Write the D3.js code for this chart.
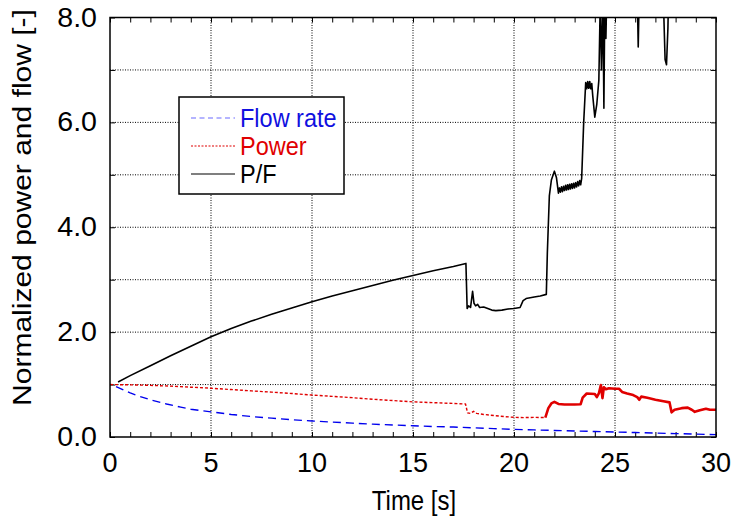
<!DOCTYPE html>
<html>
<head>
<meta charset="utf-8">
<script src="https://cdn.jsdelivr.net/npm/d3@7/dist/d3.min.js"></script>
<style>
  html, body { margin: 0; padding: 0; background: #fff; }
  svg { display: block; font-family: "Liberation Sans", Arial, Helvetica, sans-serif; }
</style>
</head>
<body>
<svg id="chart" width="736" height="519"></svg>
<script>
// Normalized flow rate [-] versus time [s]
const flowData = [
  [0.3, 0.96], [0.7, 0.89], [1.0, 0.84], [1.5, 0.77], [2.0, 0.71], [2.8, 0.63],
  [3.5, 0.57], [4.0, 0.53], [5.0, 0.48], [6.0, 0.43], [7.0, 0.39], [8.0, 0.36],
  [9.0, 0.33], [10.0, 0.305], [11.0, 0.285], [12.0, 0.265], [13.0, 0.245],
  [14.0, 0.23], [15.0, 0.215], [16.0, 0.2], [17.0, 0.19], [18.0, 0.175],
  [19.0, 0.16], [20.0, 0.145], [21.0, 0.135], [22.0, 0.125], [23.0, 0.115],
  [24.0, 0.105], [25.0, 0.095], [26.0, 0.085], [27.0, 0.075], [28.0, 0.065],
  [29.0, 0.055], [30.0, 0.045]
];

// Normalized power [-] versus time [s]
const powerData = [
  [0.0, 1.0], [1.0, 0.995], [2.0, 0.985], [3.0, 0.97], [4.0, 0.95], [5.0, 0.93],
  [6.0, 0.905], [7.0, 0.88], [8.0, 0.855], [9.0, 0.83], [10.0, 0.8], [11.0, 0.775],
  [12.0, 0.75], [13.0, 0.72], [14.0, 0.695], [15.0, 0.67], [16.0, 0.655],
  [17.0, 0.64], [17.6, 0.63], [17.7, 0.46], [17.85, 0.45], [18.0, 0.49],
  [18.15, 0.45], [18.5, 0.43], [19.0, 0.41], [19.5, 0.39], [20.0, 0.375],
  [20.5, 0.37], [21.0, 0.375], [21.55, 0.37], [21.7, 0.55], [21.85, 0.64],
  [22.0, 0.67], [22.2, 0.63], [22.5, 0.62], [23.0, 0.62], [23.3, 0.625],
  [23.4, 0.75], [23.6, 0.83], [24.0, 0.82], [24.1, 0.76], [24.2, 0.83],
  [24.3, 0.99], [24.38, 0.74], [24.45, 0.95], [24.55, 0.91], [24.7, 0.93],
  [25.0, 0.92], [25.2, 0.92], [25.35, 0.86], [25.6, 0.83], [25.9, 0.8],
  [26.1, 0.76], [26.2, 0.71], [26.3, 0.77], [26.6, 0.75], [27.0, 0.71],
  [27.4, 0.68], [27.7, 0.66], [27.8, 0.47], [27.95, 0.52], [28.3, 0.55],
  [28.6, 0.56], [28.8, 0.52], [28.95, 0.48], [29.2, 0.51], [29.5, 0.54],
  [29.7, 0.52], [30.0, 0.52]
];

// Power-to-flow ratio P/F [-] versus time [s]
const ratioData = [
  [0.4, 1.05], [1.0, 1.17], [2.0, 1.36], [3.0, 1.55], [4.0, 1.73], [5.0, 1.91],
  [6.0, 2.07], [7.0, 2.21], [8.0, 2.34], [9.0, 2.46], [10.0, 2.58], [11.0, 2.69],
  [12.0, 2.79], [13.0, 2.89], [14.0, 2.99], [15.0, 3.08], [16.0, 3.17],
  [17.0, 3.25], [17.62, 3.31], [17.68, 2.45], [17.75, 2.5], [17.85, 2.47],
  [17.95, 2.78], [18.02, 2.55], [18.1, 2.5], [18.2, 2.53], [18.3, 2.47],
  [18.5, 2.48], [18.7, 2.45], [18.9, 2.42], [19.1, 2.41], [19.4, 2.42],
  [19.7, 2.44], [20.0, 2.45], [20.3, 2.47], [20.45, 2.6], [20.6, 2.64],
  [21.0, 2.67], [21.3, 2.69], [21.6, 2.72], [21.65, 3.5], [21.75, 4.6],
  [21.85, 4.9], [22.0, 5.07], [22.1, 4.95], [22.2, 4.65], [22.25, 4.75],
  [22.3, 4.67], [22.35, 4.77], [22.4, 4.68], [22.45, 4.78], [22.5, 4.7],
  [22.55, 4.8], [22.6, 4.71], [22.65, 4.81], [22.7, 4.72], [22.75, 4.82],
  [22.8, 4.73], [22.85, 4.83], [22.9, 4.74], [22.95, 4.84], [23.0, 4.75],
  [23.05, 4.85], [23.1, 4.77], [23.15, 4.87], [23.2, 4.79], [23.25, 4.89],
  [23.3, 4.81], [23.35, 4.93], [23.45, 6.0], [23.55, 6.76], [23.6, 6.64],
  [23.65, 6.78], [23.7, 6.65], [23.75, 6.78], [23.8, 6.64], [23.85, 6.74],
  [23.9, 6.5], [24.0, 6.1], [24.1, 6.35], [24.2, 6.8], [24.27, 8.3],
  [24.33, 7.0], [24.4, 8.4], [24.45, 6.27], [24.5, 8.5], [24.55, 7.6],
  [24.62, 9.0], [25.0, 9.5], [26.0, 9.5], [26.1, 8.5], [26.15, 7.44],
  [26.2, 8.5], [26.3, 9.5], [27.3, 9.5], [27.42, 8.0], [27.48, 7.2],
  [27.55, 7.1], [27.62, 7.8], [27.7, 9.5], [30.0, 9.5]
];

const xTickValues = [0, 5, 10, 15, 20, 25, 30];
const yTickValues = [0, 2, 4, 6, 8];
const legendLabels = ["Flow rate", "Power", "P/F"];
// the power signal turns noisy (drawn as a heavy solid trace) after this time
const powerNoiseStart = 21.55;

const svg = d3.select("#chart");
const plot = { left: 110, right: 716, top: 17.5, bottom: 437 };

const x = d3.scaleLinear().domain([0, 30]).range([plot.left, plot.right]);
const y = d3.scaleLinear().domain([0, 8]).range([plot.bottom, plot.top]);

svg.append("defs").append("clipPath").attr("id", "plot-clip")
  .append("rect")
  .attr("x", plot.left).attr("y", plot.top)
  .attr("width", plot.right - plot.left).attr("height", plot.bottom - plot.top);

// Dotted grid: every 5 s horizontally, every 1.0 vertically
const grid = svg.append("g").attr("stroke", "#000").attr("stroke-width", 1)
  .attr("stroke-dasharray", "1,1.5").attr("fill", "none");
grid.selectAll(".vg").data(d3.range(5, 30, 5)).join("line")
  .attr("x1", d => x(d)).attr("x2", d => x(d))
  .attr("y1", plot.top).attr("y2", plot.bottom);
grid.selectAll(".hg").data(d3.range(1, 8, 1)).join("line")
  .attr("x1", plot.left).attr("x2", plot.right)
  .attr("y1", d => y(d)).attr("y2", d => y(d));

// Inward ticks on all four sides
const xAxisB = d3.axisBottom(x).tickValues(d3.range(0, 31, 1)).tickSize(-5).tickFormat("");
const xAxisT = d3.axisTop(x).tickValues(d3.range(0, 31, 1)).tickSize(-5).tickFormat("");
const yAxisL = d3.axisLeft(y).tickValues(d3.range(0, 9, 1)).tickSize(-5).tickFormat("");
const yAxisR = d3.axisRight(y).tickValues(d3.range(0, 9, 1)).tickSize(-5).tickFormat("");
[[xAxisB, `translate(0,${plot.bottom})`], [xAxisT, `translate(0,${plot.top})`],
 [yAxisL, `translate(${plot.left},0)`], [yAxisR, `translate(${plot.right},0)`]]
  .forEach(([ax, tr]) => {
    const g = svg.append("g").attr("transform", tr).call(ax);
    g.select(".domain").remove();
    g.selectAll("line").attr("stroke", "#000").attr("stroke-width", 1);
  });

// Curves
const line = d3.line().x(d => x(d[0])).y(d => y(d[1]));
const curves = svg.append("g").attr("clip-path", "url(#plot-clip)").attr("fill", "none")
  .attr("stroke-linejoin", "round");
curves.append("path").datum(flowData).attr("d", line)
  .attr("stroke", "#0000ee").attr("stroke-width", 1.4).attr("stroke-dasharray", "8,5");
curves.append("path").datum(powerData.filter(d => d[0] <= powerNoiseStart)).attr("d", line)
  .attr("stroke", "#e00000").attr("stroke-width", 1.4).attr("stroke-dasharray", "3,2");
curves.append("path").datum(powerData.filter(d => d[0] >= powerNoiseStart)).attr("d", line)
  .attr("stroke", "#e00000").attr("stroke-width", 2.6);
curves.append("path").datum(ratioData).attr("d", line)
  .attr("stroke", "#000").attr("stroke-width", 1.6);

// Frame
svg.append("rect")
  .attr("x", plot.left).attr("y", plot.top)
  .attr("width", plot.right - plot.left).attr("height", plot.bottom - plot.top)
  .attr("fill", "none").attr("stroke", "#000").attr("stroke-width", 1.5);

// Tick labels
svg.append("g").selectAll("text").data(xTickValues).join("text")
  .attr("transform", d => `translate(${x(d)},472) scale(1.04,1.08)`)
  .attr("text-anchor", "middle").attr("font-size", 26).attr("fill", "#000")
  .text(d => d);
svg.append("g").selectAll("text").data(yTickValues).join("text")
  .attr("transform", d => `translate(97,${y(d) + 9}) scale(1.1,1.08)`)
  .attr("text-anchor", "end").attr("font-size", 26).attr("fill", "#000")
  .text(d => d.toFixed(1));

// Axis titles
svg.append("text")
  .attr("transform", "translate(414,510) scale(1,1.12)")
  .attr("text-anchor", "middle").attr("font-size", 24).attr("fill", "#000")
  .text("Time [s]");
svg.append("text")
  .attr("transform", "translate(31,207.5) rotate(-90) scale(1.2,1)")
  .attr("text-anchor", "middle").attr("font-size", 25).attr("fill", "#000")
  .text("Normalized power and flow [-]");

// Legend
const legend = svg.append("g");
legend.append("rect")
  .attr("x", 179).attr("y", 97).attr("width", 165).attr("height", 97)
  .attr("fill", "#fff").attr("stroke", "#000").attr("stroke-width", 1.5);
const legendStyles = [
  { stroke: "#6a6aff", dash: "5,3.5", text: "#1010e0" },
  { stroke: "#e00000", dash: "2,1.5", text: "#e00000" },
  { stroke: "#000", dash: null, text: "#000" }
];
const legendRowY = [118, 146, 174];
legendLabels.forEach((label, i) => {
  const s = legendStyles[i];
  legend.append("line")
    .attr("x1", 191).attr("x2", 235)
    .attr("y1", legendRowY[i]).attr("y2", legendRowY[i])
    .attr("stroke", s.stroke).attr("stroke-width", 1.2)
    .attr("stroke-dasharray", s.dash);
  legend.append("text")
    .attr("transform", `translate(240,${legendRowY[i] + 8.5}) scale(1,1.06)`)
    .attr("font-size", 23.5).attr("fill", s.text)
    .text(label);
});
</script>
</body>
</html>
